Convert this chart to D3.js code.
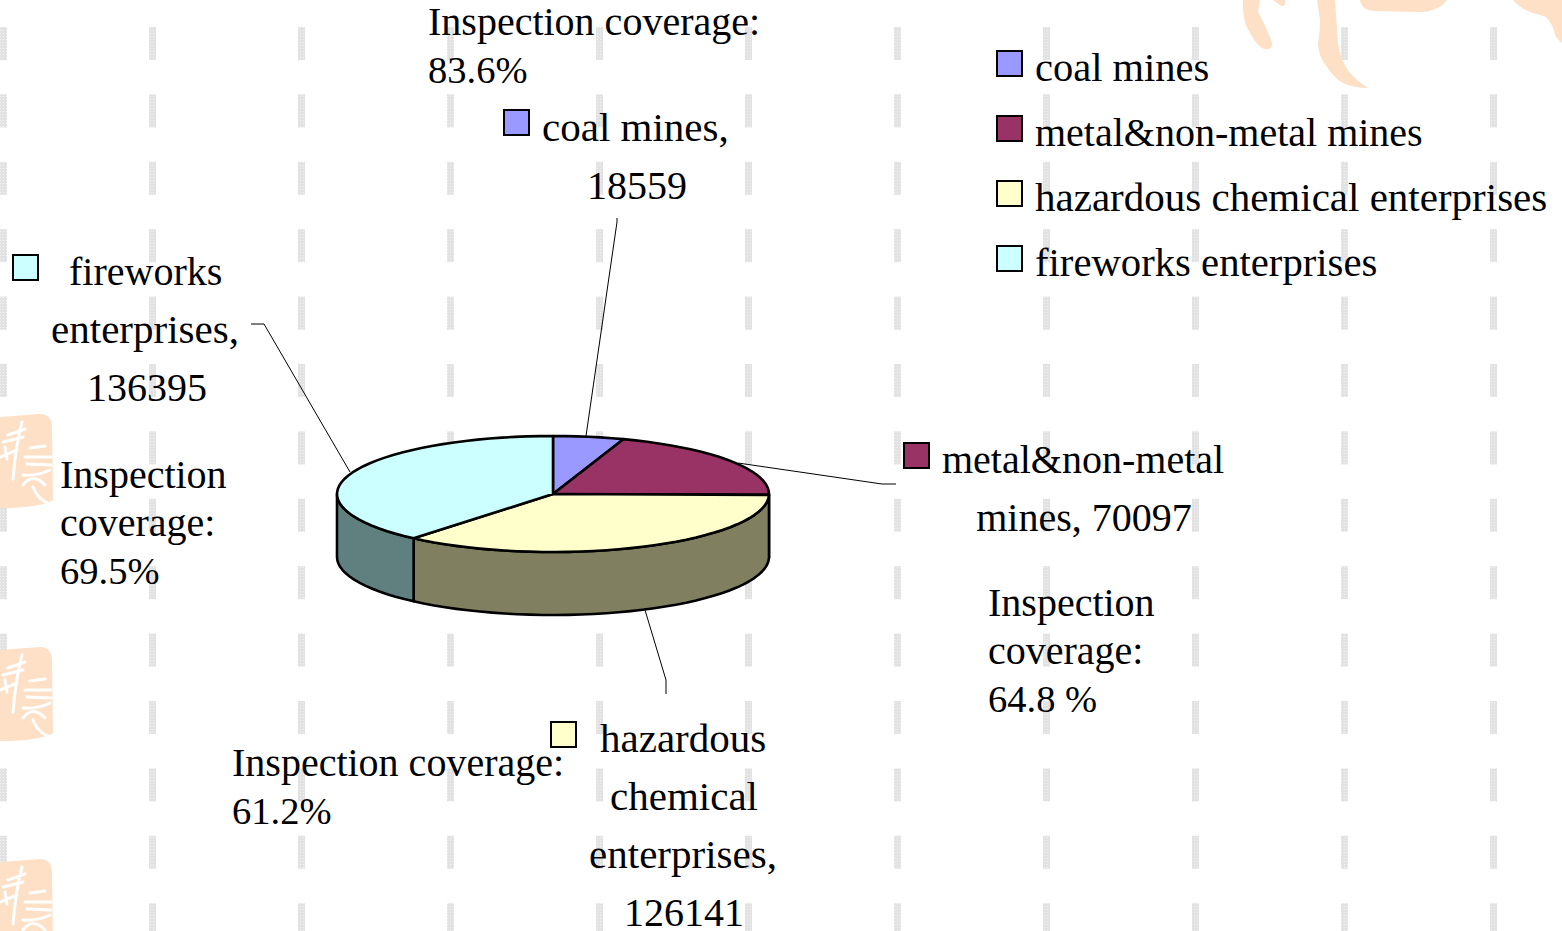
<!DOCTYPE html>
<html>
<head>
<meta charset="utf-8">
<script src="https://cdn.jsdelivr.net/npm/d3@7"></script>
<style>
  html, body { margin: 0; padding: 0; background: #fff; overflow: hidden; }
  text { font-family: "Liberation Serif", serif; fill: #000; }
</style>
</head>
<body>
<div id="chart"></div>
<script>
const width = 1562, height = 931;

// values
const categories = ["coal mines", "metal&non-metal mines", "hazardous chemical enterprises", "fireworks enterprises"];
const counts = [18559, 70097, 126141, 136395];
const coverage = ["83.6%", "64.8 %", "61.2%", "69.5%"];
const topColors = ["#9999ff", "#993366", "#ffffcc", "#ccffff"];
const sideColors = ["#5c5c99", "#5c1f3d", "#808060", "#608080"];
const legendSizes = [40.5, 40, 41, 40.7];

const svg = d3.select("#chart").append("svg")
    .attr("width", width)
    .attr("height", height)
    .style("display", "block");

// dithered grey used by the background dashes
const dither = svg.append("defs").append("pattern")
    .attr("id", "dither")
    .attr("width", 3).attr("height", 3)
    .attr("patternUnits", "userSpaceOnUse");
dither.append("rect").attr("width", 3).attr("height", 3).attr("fill", "#e2e2e2");
dither.append("rect").attr("width", 1).attr("height", 1).attr("fill", "#f2f2f2");

// background: grey dashes and the orange seal shapes
const bg = svg.append("g");
const dashX = d3.range(0, 11).map(i => i * 149);
const dashY = d3.range(0, 14).map(i => 27 + i * 67.4);
dashX.forEach(x => dashY.forEach(y => {
  bg.append("rect").attr("x", x).attr("y", y).attr("width", 7).attr("height", 33).attr("fill", "url(#dither)");
}));

const sealFill = "#fde0c6";
[414, 647, 859].forEach(y0 => {
  const seal = bg.append("g").attr("transform", `translate(0,${y0})`);
  seal.append("path")
    .attr("d", "M0,3 L40,0 Q52,0 52,14 L53,86 Q40,94 0,94 Z")
    .attr("fill", sealFill);
  seal.append("path")
    .attr("d", `M22,8 Q16,30 13,65 M8,21 L25,15 M3,28 L23,23 M0,43 L17,36 M5,33 L7,45
                M30,34 L45,32 M25,43 L51,43 M27,50 L51,51 M23,61 Q38,62 50,56
                M23,71 Q33,58 45,71 M33,73 Q38,86 50,90`)
    .attr("fill", "none").attr("stroke", "#fff").attr("stroke-width", 3).attr("stroke-linecap", "round");
});
bg.append("path")
  .attr("d", `M1243,0 L1243,10 Q1244,24 1250,33 Q1258,48 1265,49 Q1273,50 1272,43 Q1268,30 1258,12 L1260,0 Z
              M1273,0 Q1280,6 1283,6 Q1286,5 1285,0 Z
              M1317,0 L1320,20 Q1320,32 1318,43 Q1318,56 1327,67 Q1334,78 1343,83 Q1354,88 1368,88 Q1356,80 1350,73 Q1340,60 1338,43 L1335,0 Z
              M1360,0 Q1362,11 1375,11 L1423,12 Q1440,10 1447,0 Z
              M1513,0 Q1520,8 1530,12 L1546,17 Q1553,24 1555,35 Q1558,40 1562,43 L1562,0 Z`)
  .attr("fill", sealFill);

// 3D pie: unit circle mapped through two linear scales
const x = d3.scaleLinear().domain([-1, 1]).range([337, 769]);
const y = d3.scaleLinear().domain([-1, 1]).range([436, 552]);
const depth = 63;

const slices = d3.pie().sort(null).startAngle(0).endAngle(2 * Math.PI)(counts);
const rimX = a => x(Math.sin(a));
const rimY = a => y(-Math.cos(a));

function arcPoints(a0, a1) {
  const n = Math.max(2, Math.ceil((a1 - a0) / 0.06));
  return d3.range(n + 1).map(i => a0 + (a1 - a0) * i / n);
}

const line = d3.line().x(d => d[0]).y(d => d[1]);
const pie = svg.append("g")
    .attr("stroke", "#000")
    .attr("stroke-width", 2.6)
    .attr("stroke-linejoin", "round");

// side wall: only the part of each slice facing the viewer
slices.forEach((s, i) => {
  const a0 = Math.max(s.startAngle, Math.PI / 2);
  const a1 = Math.min(s.endAngle, 3 * Math.PI / 2);
  if (a1 <= a0) return;
  const angles = arcPoints(a0, a1);
  const front = angles.map(a => [rimX(a), rimY(a)]);
  const back = angles.slice().reverse().map(a => [rimX(a), rimY(a) + depth]);
  pie.append("path").attr("d", line(front.concat(back)) + "Z").attr("fill", sideColors[i]);
});

// top face
slices.forEach((s, i) => {
  const pts = [[x(0), y(0)]].concat(arcPoints(s.startAngle, s.endAngle).map(a => [rimX(a), rimY(a)]));
  pie.append("path").attr("d", line(pts) + "Z").attr("fill", topColors[i]);
});

// leader lines
const leaders = [
  [[586, 436], [617, 222], [617, 218]],
  [[738, 463], [882, 484], [896, 484]],
  [[645, 610], [666, 680], [666, 694]],
  [[350, 472], [264, 324], [251, 324]]
];
svg.append("g").selectAll("path").data(leaders).join("path")
    .attr("d", line).attr("fill", "none").attr("stroke", "#000").attr("stroke-width", 1);

// text helpers
const wordSize = 41, numberSize = 40, noteSize = 40, pctSize = 38.5;
function block(s, px, py, size, anchor) {
  svg.append("text")
      .attr("x", px).attr("y", py)
      .attr("font-size", size)
      .attr("text-anchor", anchor || "start")
      .text(s);
}
function swatch(px, py, i) {
  svg.append("rect").attr("x", px).attr("y", py).attr("width", 25).attr("height", 25)
      .attr("fill", topColors[i]).attr("stroke", "#000").attr("stroke-width", 2);
}

// data labels
swatch(504, 110, 0);
block("coal mines,", 542, 141, wordSize);
block(String(counts[0]), 637, 199, numberSize, "middle");

swatch(904, 443, 1);
block("metal&non-metal", 942, 473, 40);
block(`mines, ${counts[1]}`, 1084, 531, numberSize, "middle");

swatch(551, 722, 2);
block("hazardous", 600, 752, wordSize);
block("chemical", 684, 810, wordSize, "middle");
block("enterprises,", 683, 868, wordSize, "middle");
block(String(counts[2]), 684, 926, numberSize, "middle");

swatch(13, 255, 3);
block("fireworks", 69, 285, 40);
block("enterprises,", 145, 343, wordSize, "middle");
block(String(counts[3]), 147, 401, numberSize, "middle");

// coverage notes
block("Inspection coverage:", 428, 35, noteSize);
block(coverage[0], 428, 83, pctSize);
block("Inspection", 988, 616, noteSize);
block("coverage:", 988, 664, noteSize);
block(coverage[1], 988, 712, pctSize);
block("Inspection coverage:", 232, 776, noteSize);
block(coverage[2], 232, 824, pctSize);
block("Inspection", 60, 488, noteSize);
block("coverage:", 60, 536, noteSize);
block(coverage[3], 60, 584, pctSize);

// legend
const legendY = d3.scalePoint().domain(categories).range([81, 276]);
categories.forEach((c, i) => {
  swatch(997, legendY(c) - 30, i);
  block(c, 1035, legendY(c), legendSizes[i]);
});
</script>
</body>
</html>
